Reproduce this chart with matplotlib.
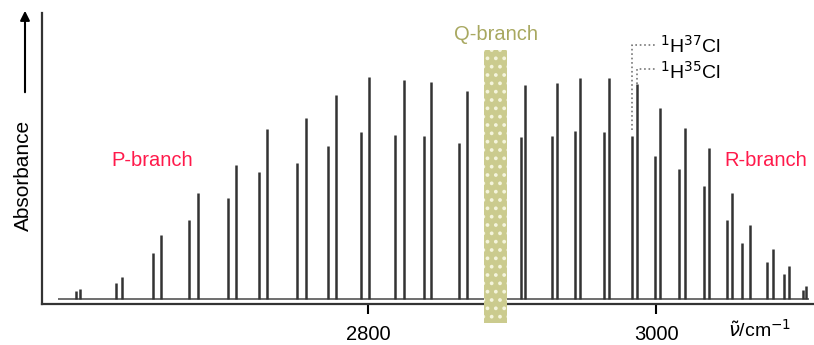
import matplotlib
matplotlib.use("Agg")
import matplotlib.pyplot as plt
from matplotlib.patches import Rectangle, FancyArrowPatch

plt.rcParams['font.family'] = ['Liberation Sans', 'DejaVu Sans']

# line positions (cm^-1) and relative absorbance
h35_wn = [2600, 2629, 2656, 2682, 2708, 2730, 2757, 2778, 2801, 2825, 2844, 2869,
          2909, 2931, 2947, 2967, 2987, 3003, 3020, 3037, 3053, 3065, 3081, 3092, 3104]
h35_abs = [10, 22, 64, 106, 134, 170, 181, 204, 222, 219, 217, 208,
           214, 216, 221, 221, 215, 191, 171, 151, 106, 74, 50, 33, 13]
h37_wn = [2597, 2625, 2651, 2676, 2703, 2724, 2751, 2772, 2795, 2819, 2839, 2863,
          2906, 2928, 2944, 2964, 2983, 2999, 3016, 3033, 3049, 3060, 3077, 3089, 3102]
h37_abs = [8, 16, 46, 79, 101, 127, 136, 153, 167, 164, 163, 156,
           162, 163, 168, 167, 163, 143, 130, 113, 79, 56, 37, 25, 9]
xticks = [2800, 3000]
q_band = (2880.6, 2896.5)
label_line = 16  # pair that the isotope labels point at

fig = plt.figure(figsize=(8.14, 3.45), dpi=100)
ax = fig.add_axes([42 / 814, 41 / 345, 772 / 814, 291 / 345])
ax.set_xlim(2573.6, 3109.7)
ax.set_ylim(-5, 286)

line_col = '#333333'
ax.hlines(0, 2585, 3106, color='#555555', lw=1.2)
ax.vlines(h37_wn, 0, h37_abs, color=line_col, lw=1.8)
ax.vlines(h35_wn, 0, h35_abs, color=line_col, lw=1.8)

# Q-branch gap
plt.rcParams['hatch.linewidth'] = 1.5
ax.add_patch(Rectangle((q_band[0], -24), q_band[1] - q_band[0], 273,
                       facecolor='#cbcb8e', edgecolor='#f4f4dc', lw=0,
                       hatch='..', clip_on=False, zorder=3))
ax.text(sum(q_band) / 2, 264, 'Q-branch', color='#a8a860', fontsize=14.5,
        ha='center', va='center')
ax.text(2650, 139, 'P-branch', color='#ff1a4b', fontsize=14.5, ha='center', va='center')
ax.text(3076, 139, 'R-branch', color='#ff1a4b', fontsize=14.5, ha='center', va='center')

# isotope labels with dotted leaders
x37 = h37_wn[label_line]
x35 = h35_wn[label_line]
ax.plot([x37, x37, 3000.5], [h37_abs[label_line] + 6, 254, 254], ls=':', color='#777777', lw=1.2)
ax.plot([x35, x35, 2999], [h35_abs[label_line], 230, 230], ls=':', color='#777777', lw=1.2)
ax.text(3003, 253, r'$^{1}$H$^{37}$Cl', fontsize=14, va='center', ha='left')
ax.text(3003, 227, r'$^{1}$H$^{35}$Cl', fontsize=14, va='center', ha='left')

for side in ['top', 'right']:
    ax.spines[side].set_visible(False)
for side in ['left', 'bottom']:
    ax.spines[side].set_linewidth(1.6)
    ax.spines[side].set_color('#333333')
ax.set_yticks([])
ax.set_xticks(xticks)
ax.tick_params(axis='x', direction='out', length=7, width=1.5, labelsize=14.5, pad=8)

fig.text(728 / 814, 1 - 330 / 345, r'$\tilde{\nu}$/cm$^{-1}$', fontsize=14,
         ha='left', va='center')
fig.text(23 / 814, 1 - 175 / 345, 'Absorbance', rotation=90, fontsize=15,
         ha='center', va='center')
fig.add_artist(FancyArrowPatch((25 / 814, 1 - 95 / 345), (25 / 814, 1 - 8 / 345),
               transform=fig.transFigure, arrowstyle='-|>', mutation_scale=14,
               color='black', lw=1.5))

fig.savefig('out.png', dpi=100)
